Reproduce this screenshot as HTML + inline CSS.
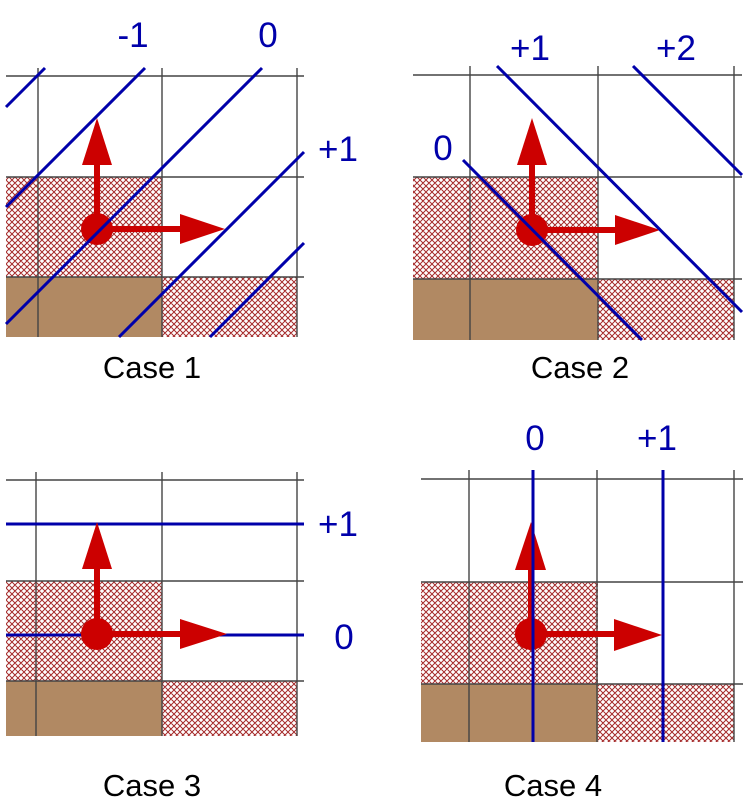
<!DOCTYPE html>
<html><head><meta charset="utf-8"><style>
html,body{margin:0;padding:0;background:#fff;}
svg{display:block;}
text{font-family:"Liberation Sans",sans-serif;}
</style></head><body>
<svg width="750" height="804" viewBox="0 0 750 804" xmlns="http://www.w3.org/2000/svg">
<defs>
<pattern id="h" width="6" height="6" patternUnits="userSpaceOnUse">
<rect width="6" height="6" fill="#fff"/>
<path d="M0,0 L6,6 M6,0 L0,6 M-1,5 L1,7 M5,-1 L7,1 M-1,1 L1,-1 M5,7 L7,5" stroke="#a52a2a" stroke-width="1"/>
</pattern>
</defs>
<g stroke-linecap="butt">
<!-- Case 1 -->
<rect x="6" y="177" width="156" height="100" fill="url(#h)"/>
<rect x="162" y="277" width="135" height="60" fill="url(#h)"/>
<rect x="6" y="277" width="156" height="60" fill="#b18963"/>
<g stroke="#444" stroke-width="1.4">
<line x1="6" y1="76" x2="304" y2="76"/><line x1="6" y1="177" x2="304" y2="177"/><line x1="6" y1="277" x2="304" y2="277"/>
<line x1="38" y1="68" x2="38" y2="337"/><line x1="162" y1="68" x2="162" y2="337"/><line x1="297" y1="68" x2="297" y2="337"/>
</g>
<g fill="#cc0000">
<circle cx="97" cy="229" r="16"/>
<rect x="94" y="163" width="6" height="66"/><polygon points="82,165 112,165 97,118"/>
<rect x="97" y="226" width="85" height="6"/><polygon points="180,214 180,244 225,229"/>
</g>
<g stroke="#0000aa" stroke-width="3">
<line x1="45" y1="68" x2="6" y2="107"/>
<line x1="145" y1="68" x2="6" y2="207"/>
<line x1="262" y1="68" x2="6" y2="324"/>
<line x1="304" y1="152" x2="119" y2="337"/>
<line x1="304" y1="243" x2="210" y2="337"/>
</g>
<!-- Case 2 -->
<rect x="413" y="177" width="185" height="102" fill="url(#h)"/>
<rect x="598" y="279" width="136" height="61" fill="url(#h)"/>
<rect x="413" y="279" width="185" height="61" fill="#b18963"/>
<g stroke="#444" stroke-width="1.4">
<line x1="413" y1="75" x2="742" y2="75"/><line x1="413" y1="177" x2="742" y2="177"/><line x1="413" y1="279" x2="742" y2="279"/>
<line x1="470" y1="66" x2="470" y2="340"/><line x1="598" y1="66" x2="598" y2="340"/><line x1="734" y1="66" x2="734" y2="340"/>
</g>
<g fill="#cc0000">
<circle cx="532" cy="230" r="16"/>
<rect x="529" y="163" width="6" height="67"/><polygon points="517,165 547,165 532,118"/>
<rect x="532" y="227" width="85" height="6"/><polygon points="615,215 615,245 660,230"/>
</g>
<g stroke="#0000aa" stroke-width="3">
<line x1="497" y1="66" x2="742" y2="312"/>
<line x1="633" y1="66" x2="742" y2="175"/>
<line x1="463" y1="160" x2="642" y2="340"/>
</g>
<!-- Case 3 -->
<rect x="6" y="581" width="156" height="100" fill="url(#h)"/>
<rect x="162" y="681" width="135" height="55" fill="url(#h)"/>
<rect x="6" y="681" width="156" height="55" fill="#b18963"/>
<g stroke="#444" stroke-width="1.4">
<line x1="6" y1="480" x2="304" y2="480"/><line x1="6" y1="581" x2="304" y2="581"/><line x1="6" y1="681" x2="304" y2="681"/>
<line x1="36" y1="472" x2="36" y2="736"/><line x1="162" y1="472" x2="162" y2="736"/><line x1="297" y1="472" x2="297" y2="736"/>
</g>
<g stroke="#0000aa" stroke-width="3">
<line x1="6" y1="524" x2="304" y2="524"/>
<line x1="6" y1="635" x2="304" y2="635"/>
</g>
<g fill="#cc0000">
<circle cx="97" cy="634" r="16"/>
<rect x="94" y="567" width="6" height="67"/><polygon points="82,569 112,569 97,522"/>
<rect x="97" y="631" width="85" height="6"/><polygon points="180,619 180,649 227,634"/>
</g>
<!-- Case 4 -->
<rect x="421" y="582" width="177" height="102" fill="url(#h)"/>
<rect x="598" y="684" width="136" height="58" fill="url(#h)"/>
<rect x="421" y="684" width="177" height="58" fill="#b18963"/>
<g stroke="#444" stroke-width="1.4">
<line x1="421" y1="479" x2="743" y2="479"/><line x1="421" y1="582" x2="743" y2="582"/><line x1="421" y1="684" x2="743" y2="684"/>
<line x1="469" y1="470" x2="469" y2="742"/><line x1="597" y1="470" x2="597" y2="742"/><line x1="734" y1="470" x2="734" y2="742"/>
</g>
<g fill="#cc0000">
<circle cx="531" cy="634" r="16"/>
<rect x="528" y="567" width="6" height="67"/><polygon points="515,570 546,570 531,522"/>
<rect x="531" y="631" width="85" height="6"/><polygon points="614,619 614,651 662,635"/>
</g>
<g stroke="#0000aa" stroke-width="3">
<line x1="533" y1="470" x2="533" y2="742"/>
<line x1="663" y1="470" x2="663" y2="742"/>
</g>
</g>
<g fill="#0000aa" font-size="35" text-anchor="middle">
<text x="133" y="47">-1</text>
<text x="268" y="47">0</text>
<text x="338" y="161">+1</text>
<text x="530" y="60">+1</text>
<text x="676" y="60">+2</text>
<text x="443" y="160">0</text>
<text x="338" y="536">+1</text>
<text x="344" y="649">0</text>
<text x="535" y="450">0</text>
<text x="657" y="450">+1</text>
</g>
<g fill="#000" font-size="31" text-anchor="middle">
<text x="152" y="378">Case 1</text>
<text x="580" y="378">Case 2</text>
<text x="152" y="796">Case 3</text>
<text x="553" y="796">Case 4</text>
</g>
</svg>
</body></html>
